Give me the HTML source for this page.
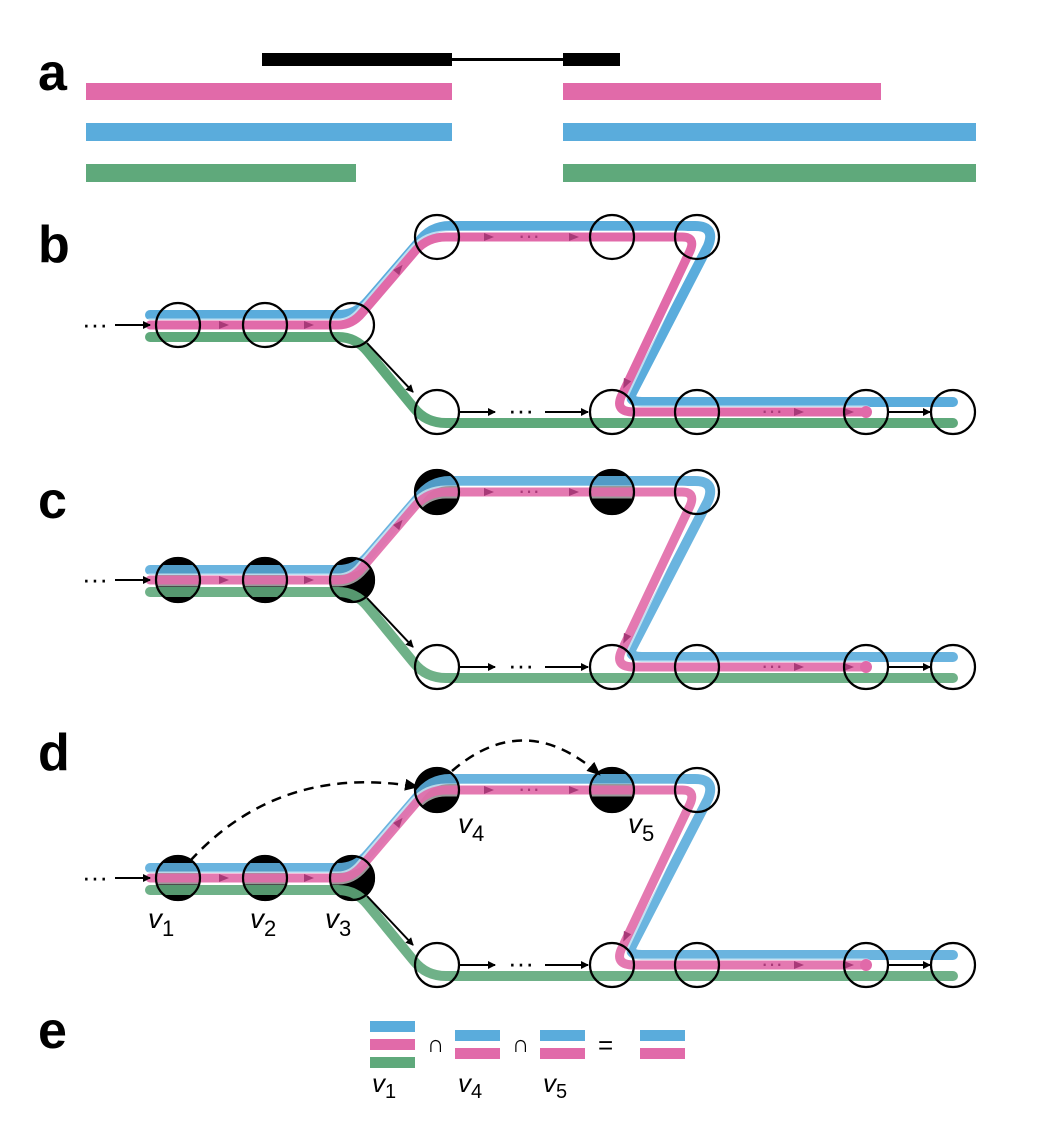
<!DOCTYPE html>
<html><head><meta charset="utf-8"><style>
body{margin:0;background:#fff}
svg text{font-family:"Liberation Sans",sans-serif}
</style></head><body>
<svg width="1040" height="1138" viewBox="0 0 1040 1138" xmlns="http://www.w3.org/2000/svg">
<defs>
<marker id="ah" markerWidth="8" markerHeight="8" refX="7" refY="4" orient="auto" markerUnits="userSpaceOnUse"><path d="M0,0 L8,4 L0,8 z" fill="#000"/></marker>
<marker id="ahL" markerWidth="14" markerHeight="12" refX="13" refY="6" orient="auto" markerUnits="userSpaceOnUse"><path d="M0,0 L14,6 L0,12 z" fill="#000"/></marker>
</defs>
<g>
<text x="38" y="90" font-size="52" font-weight="bold">a</text>
<rect x="262" y="53" width="190" height="13" fill="#000"/>
<rect x="452" y="58" width="111" height="3" fill="#000"/>
<rect x="563" y="53" width="57" height="13" fill="#000"/>
<rect x="86" y="83" width="366" height="17" fill="#e16aa9"/>
<rect x="563" y="83" width="318" height="17" fill="#e16aa9"/>
<rect x="86" y="123" width="366" height="18" fill="#5aacdc"/>
<rect x="563" y="123" width="413" height="18" fill="#5aacdc"/>
<rect x="86" y="164" width="270" height="18" fill="#5fa97b"/>
<rect x="563" y="164" width="413" height="18" fill="#5fa97b"/>
</g>
<g id="panels"></g>
<g>
<text x="38" y="1048" font-size="52" font-weight="bold">e</text>
<rect x="370" y="1021" width="45" height="11" fill="#5aacdc"/><rect x="370" y="1039" width="45" height="11" fill="#e16aa9"/><rect x="370" y="1057" width="45" height="11" fill="#5fa97b"/>
<text x="427" y="1052" font-size="24">∩</text>
<rect x="455" y="1030" width="45" height="11" fill="#5aacdc"/><rect x="455" y="1048" width="45" height="11" fill="#e16aa9"/>
<text x="512" y="1052" font-size="24">∩</text>
<rect x="540" y="1030" width="45" height="11" fill="#5aacdc"/><rect x="540" y="1048" width="45" height="11" fill="#e16aa9"/>
<text x="598" y="1054" font-size="26">=</text>
<rect x="640" y="1030" width="45" height="11" fill="#5aacdc"/><rect x="640" y="1048" width="45" height="11" fill="#e16aa9"/>
<text x="372" y="1092" font-size="26" font-style="italic">v<tspan font-style="normal" font-size="20" dy="6">1</tspan></text>
<text x="458" y="1092" font-size="26" font-style="italic">v<tspan font-style="normal" font-size="20" dy="6">4</tspan></text>
<text x="543" y="1092" font-size="26" font-style="italic">v<tspan font-style="normal" font-size="20" dy="6">5</tspan></text>
</g>
</svg>
<script>
const NS="http://www.w3.org/2000/svg";
const panelNames=["b","c","d"];
const panelOffsets=[0,255,553];
const labelY=[262,518,770];
const root=document.getElementById("panels");
function el(t,a,p){const e=document.createElementNS(NS,t);for(const k in a)e.setAttribute(k,a[k]);(p||root).appendChild(e);return e;}
panelNames.forEach((nm,i)=>{
 const g=el("g",{transform:`translate(0,${panelOffsets[i]})`});
 
 
 const t=el("text",{x:38,y:labelY[i]-panelOffsets[i],"font-size":52,"font-weight":"bold"},g);t.textContent=nm;
 const filled=i>0;
 const fills=[[178,325],[265,325],[352,325],[437,237],[612,237]];
 if(filled)fills.forEach(p=>el("circle",{cx:p[0],cy:p[1],r:23,fill:"#000"},g));
 const op=filled?0.9:1;
 el("path",{d:"M150,315 L338,315 Q356,315 368,301 L418,243 Q430,226 450,226 L695,226 Q716,226 708,246 L632,393 Q628,402 642,402 L953,402",fill:"none",stroke:"#5aacdc","stroke-width":10,"stroke-linecap":"round","stroke-linejoin":"round",opacity:op},g);
 el("path",{d:"M150,325 L338,325 Q352,325 362,313 L416,250 Q428,237 446,237 L682,237 Q696,237 690,251 L621,397 Q615,412 634,412 L866,412",fill:"none",stroke:"#fff","stroke-width":13,"stroke-linecap":"round","stroke-linejoin":"round",opacity:0.6},g);
 el("path",{d:"M150,325 L338,325 Q352,325 362,313 L416,250 Q428,237 446,237 L682,237 Q696,237 690,251 L621,397 Q615,412 634,412 L866,412",fill:"none",stroke:"#e16aa9","stroke-width":9,"stroke-linecap":"round","stroke-linejoin":"round",opacity:op},g);
 el("path",{d:"M150,337 L338,337 Q356,337 368,352 L414,408 Q426,423 446,423 L953,423",fill:"none",stroke:"#5fa97b","stroke-width":10,"stroke-linecap":"round","stroke-linejoin":"round",opacity:op},g);
 el("circle",{cx:866,cy:412,r:6,fill:"#e16aa9"},g);
 [[225,325,0],[310,325,0],[490,237,0],[575,237,0],[800,412,0],[850,412,0],[400,268,-50],[625,385,115]].forEach(a=>{
  el("path",{d:"M-6,-4 L4,0 L-6,4 z",fill:"#a83a78",transform:`translate(${a[0]},${a[1]}) rotate(${a[2]})`},g);
 });
 const d1=el("text",{x:518,y:243,"font-size":22,fill:"#a83a78"},g);d1.textContent="···";
 const d2=el("text",{x:761,y:418,"font-size":22,fill:"#a83a78"},g);d2.textContent="···";
 const nodes=[[178,325],[265,325],[352,325],[437,237],[612,237],[697,237],[437,412],[612,412],[697,412],[866,412],[953,412]];
 nodes.forEach(p=>el("circle",{cx:p[0],cy:p[1],r:22,fill:"none",stroke:"#000","stroke-width":2.2},g));
 const d0=el("text",{x:82,y:333,"font-size":26},g);d0.textContent="···";
 el("line",{x1:115,y1:325,x2:150,y2:325,stroke:"#000","stroke-width":2,"marker-end":"url(#ah)"},g);
 el("line",{x1:367,y1:343,x2:413,y2:392,stroke:"#000","stroke-width":2,"marker-end":"url(#ah)"},g);
 el("line",{x1:460,y1:412,x2:495,y2:412,stroke:"#000","stroke-width":2,"marker-end":"url(#ah)"},g);
 const d3=el("text",{x:508,y:419,"font-size":26},g);d3.textContent="···";
 el("line",{x1:545,y1:412,x2:588,y2:412,stroke:"#000","stroke-width":2,"marker-end":"url(#ah)"},g);
 el("line",{x1:888,y1:412,x2:930,y2:412,stroke:"#000","stroke-width":2,"marker-end":"url(#ah)"},g);
 if(i===2){
  el("path",{d:"M190,308 Q280,210 418,234",fill:"none",stroke:"#000","stroke-width":2.5,"stroke-dasharray":"10,7","marker-end":"url(#ahL)"},g);
  el("path",{d:"M452,218 Q525,155 600,222",fill:"none",stroke:"#000","stroke-width":2.5,"stroke-dasharray":"10,7","marker-end":"url(#ahL)"},g);
  [["1",148,375],["2",250,375],["3",325,375],["4",458,280],["5",628,280]].forEach(l=>{
   const tx=el("text",{x:l[1],y:l[2],"font-size":28,"font-style":"italic"},g);
   tx.textContent="v";
   const ts=el("tspan",{"font-style":"normal","font-size":22,dy:8},tx);ts.textContent=l[0];
  });
 }
});
</script>
</body></html>
